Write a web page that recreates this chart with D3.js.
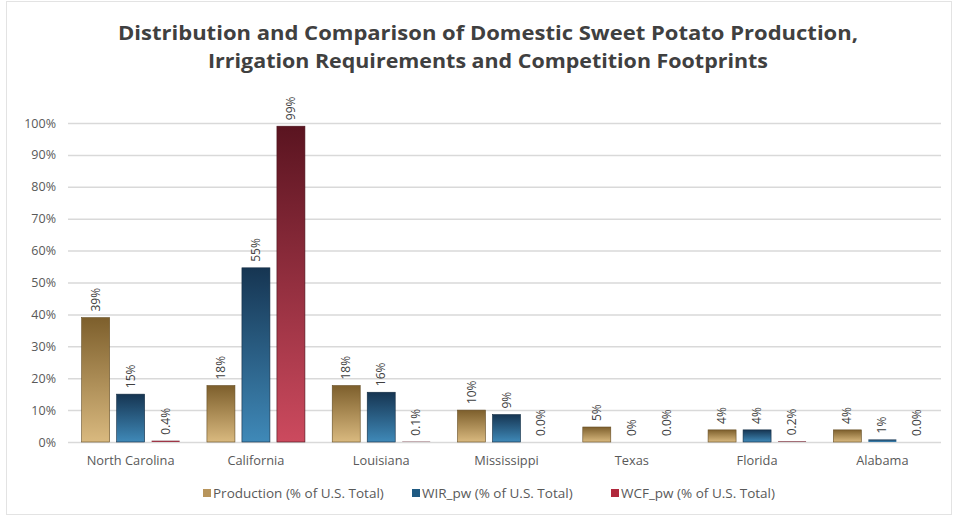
<!DOCTYPE html>
<html>
<head>
<meta charset="utf-8">
<script src="https://cdn.jsdelivr.net/npm/d3@7"></script>
<style>
  html, body { margin: 0; padding: 0; background: #fff; }
  svg { display: block; }
</style>
</head>
<body>
<svg id="chart" width="953" height="516"></svg>
<script>
// Sweet potato production vs. irrigation requirement and competition footprint, by state
const states = ["North Carolina", "California", "Louisiana", "Mississippi", "Texas", "Florida", "Alabama"];
const production = [39, 17.7, 17.7, 10, 4.7, 3.8, 3.8];      // % of U.S. total
const wirPw = [15, 54.6, 15.6, 8.6, 0, 3.8, 0.8];            // % of U.S. total
const wcfPw = [0.4, 99, 0.1, 0.0, 0.0, 0.2, 0.0];            // % of U.S. total
const seriesNames = ["Production (% of U.S. Total)", "WIR_pw (% of U.S. Total)", "WCF_pw (% of U.S. Total)"];
const yTicks = [0, 10, 20, 30, 40, 50, 60, 70, 80, 90, 100];

// small shares (< 1%) keep one decimal in their labels when the series asks for it
const fmtLabel = (v, fine) => (fine && v < 1 ? v.toFixed(1) : v.toFixed(0)) + "%";

const series = [
  { key: "prod", name: seriesNames[0], values: production, fine: false, top: "#7d5f2c", bottom: "#d9b97f", swatch: "#b8955c" },
  { key: "wir",  name: seriesNames[1], values: wirPw,      fine: false, top: "#163552", bottom: "#3f89b8", swatch: "#1f5a82" },
  { key: "wcf",  name: seriesNames[2], values: wcfPw,      fine: true,  top: "#5a1420", bottom: "#cc4a5e", swatch: "#b0283c" }
];

const svg = d3.select("#chart");
const W = 953, H = 516;
const margin = { left: 68, right: 8, top: 123, bottom: 74 };
const plotW = W - margin.left - margin.right;
const plotBottom = 442;
const font = "'Open Sans', sans-serif";

// faint frame around the chart area
svg.append("rect").attr("x", 6.5).attr("y", 1.5).attr("width", W - 8).attr("height", H - 3)
  .attr("fill", "none").attr("stroke", "#e3e3e3");

const x = d3.scaleBand().domain(states).range([margin.left, margin.left + plotW]).paddingInner(0).paddingOuter(0);
const xs = d3.scaleBand().domain(series.map(s => s.key)).range([0, x.bandwidth()]).paddingInner(0.2).paddingOuter(0.39);
const y = d3.scaleLinear().domain([0, 100]).range([plotBottom, margin.top]);

// vertical gradients for each series
const defs = svg.append("defs");
series.forEach(s => {
  const g = defs.append("linearGradient").attr("id", "grad-" + s.key)
    .attr("x1", 0).attr("y1", 0).attr("x2", 0).attr("y2", 1);
  g.append("stop").attr("offset", "0%").attr("stop-color", s.top);
  g.append("stop").attr("offset", "100%").attr("stop-color", s.bottom);
});

// gridlines + y axis labels
const yAxis = d3.axisLeft(y).tickValues(yTicks).tickSize(-(plotW - 4)).tickFormat(d => d + "%").tickPadding(12);
const ya = svg.append("g").attr("transform", `translate(${margin.left},0)`).call(yAxis);
ya.select(".domain").remove();
ya.selectAll(".tick line").attr("stroke", "#d9d9d9").attr("stroke-width", 1.5);
ya.selectAll(".tick text").attr("fill", "#595959").style("font-family", font).style("font-size", "12.5px");

// x axis labels
const xAxis = d3.axisBottom(x).tickSize(0).tickPadding(14);
const xa = svg.append("g").attr("transform", `translate(0,${plotBottom})`).call(xAxis);
xa.select(".domain").remove();
xa.selectAll(".tick text").attr("fill", "#595959").style("font-family", font).style("font-size", "12.8px");

// bars and rotated value labels
const groups = svg.append("g").selectAll("g").data(states).join("g")
  .attr("transform", d => `translate(${x(d)},0)`);

series.forEach(s => {
  groups.append("rect")
    .attr("x", xs(s.key))
    .attr("width", xs.bandwidth())
    .attr("y", (d, i) => y(s.values[i]))
    .attr("height", (d, i) => plotBottom - y(s.values[i]))
    .attr("fill", `url(#grad-${s.key})`)
    .attr("stroke", (d, i) => s.values[i] >= 1 ? d3.color(s.top).darker(0.6) : "none")
    .attr("stroke-width", 0.6);

  groups.append("text")
    .attr("transform", (d, i) => `translate(${xs(s.key) + xs.bandwidth() / 2 + 4},${y(s.values[i]) - 6}) rotate(-90)`)
    .attr("text-anchor", "start")
    .attr("fill", "#404040")
    .style("font-family", font)
    .style("font-size", "12px")
    .text((d, i) => fmtLabel(s.values[i], s.fine));
});

// title
const title = svg.append("text").attr("x", 488).attr("text-anchor", "middle")
  .attr("fill", "#404040").style("font-family", font)
  .style("font-weight", "bold").style("font-size", "20px");
title.append("tspan").attr("x", 488).attr("y", 40).attr("textLength", 740).attr("lengthAdjust", "spacingAndGlyphs")
  .text("Distribution and Comparison of Domestic Sweet Potato Production,");
title.append("tspan").attr("x", 488).attr("y", 68).attr("textLength", 560).attr("lengthAdjust", "spacingAndGlyphs")
  .text("Irrigation Requirements and Competition Footprints");

// legend
const legendX = [203, 412, 611];
const legend = svg.append("g").selectAll("g").data(series).join("g")
  .attr("transform", (d, i) => `translate(${legendX[i]},498)`);
legend.append("rect").attr("x", 0).attr("y", -9).attr("width", 8).attr("height", 8).attr("fill", d => d.swatch);
legend.append("text").attr("x", 10).attr("y", 0).attr("fill", "#595959")
  .style("font-family", font).style("font-size", "13.5px")
  .text(d => d.name);
</script>
</body>
</html>
